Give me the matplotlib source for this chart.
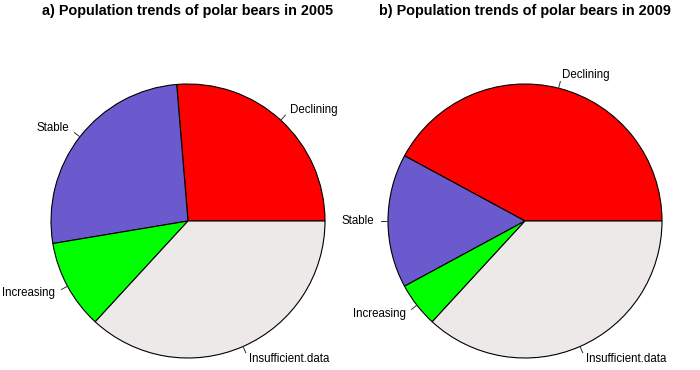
import numpy as np
import matplotlib
matplotlib.use("Agg")
import matplotlib.pyplot as plt

categories = ["Declining", "Stable", "Increasing", "Insufficient.data"]
counts_2005 = [5, 5, 2, 7]
counts_2009 = [8, 3, 1, 7]
titles = ["a) Population trends of polar bears in 2005",
          "b) Population trends of polar bears in 2009"]
colors = ["#FF0000", "#6A5ACD", "#00FF00", "#EEE9E9"]

W, H = 700, 370
fig = plt.figure(figsize=(W / 100, H / 100), dpi=100)
plt.rcParams['font.family'] = ['Liberation Sans', 'DejaVu Sans']

R = 137.0
half = 160.0
centers = [(188, 221), (525, 221)]
for (cx, cy), vals, title in zip(centers, [counts_2005, counts_2009], titles):
    ax = fig.add_axes([(cx - half) / W, (H - cy - half) / H, 2 * half / W, 2 * half / H])
    lim = half / R
    ax.axis("off")
    wedges, _ = ax.pie(vals, colors=colors, startangle=0, counterclock=True,
                       radius=1.0, wedgeprops=dict(edgecolor="black", linewidth=0.8),
                       frame=False)
    ax.set_xlim(-lim, lim)
    ax.set_ylim(-lim, lim)
    ax.set_aspect("equal")
    for w, lab in zip(wedges, categories):
        mid = np.deg2rad((w.theta1 + w.theta2) / 2)
        c, s = np.cos(mid), np.sin(mid)
        ax.plot([c, 1.05 * c], [s, 1.05 * s], color="#333333", lw=0.7, clip_on=False)
        ax.text(1.1 * c, 1.1 * s, lab, ha="left" if c > 0 else "right", va="center",
                fontsize=8.3, clip_on=False)
    fig.text(cx / W, 1 - 11 / H, title, ha="center", va="center",
             fontsize=10.4, fontweight="bold")

fig.savefig("out.png", dpi=100, facecolor="white")
